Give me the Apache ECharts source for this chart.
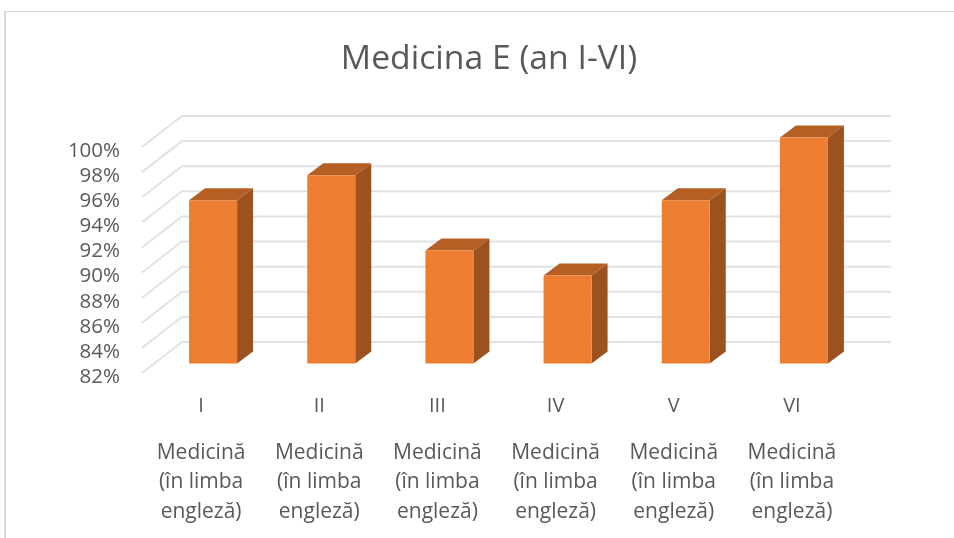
<!DOCTYPE html>
<html>
<head>
<meta charset="utf-8">
<style>
  html, body { margin: 0; padding: 0; background: #fff; }
  #chart { width: 954px; height: 538px; }
</style>
<script src="https://cdn.jsdelivr.net/npm/echarts@6/dist/echarts.min.js"></script>
</head>
<body>
<div id="chart"></div>
<script>
const years = ['I', 'II', 'III', 'IV', 'V', 'VI']
const programme = [
  'Medicină\n(în limba\nengleză)',
  'Medicină\n(în limba\nengleză)',
  'Medicină\n(în limba\nengleză)',
  'Medicină\n(în limba\nengleză)',
  'Medicină\n(în limba\nengleză)',
  'Medicină\n(în limba\nengleză)',
]
const values = [95, 97, 91, 89, 95, 100]
const ticks = [82, 84, 86, 88, 90, 92, 94, 96, 98, 100]

const FONT = '"Open Sans", sans-serif'
const TEXT = '#595959'
const BASE = 82
// fake 3d: wall depth, where the bar starts inside it, and the bar's own depth
const WALL = [40, -31]
const INSET = [12, -9.5]
const DEPTH = [16, -12]
const BAR_W = 48

const chart = echarts.init(document.getElementById('chart'))

const poly = (points, color, z2) => ({
  type: 'polygon',
  z2: z2,
  shape: { points: points },
  style: { fill: color },
})

const option = {
  backgroundColor: '#fff',
  animation: false,
  title: {
    text: 'Medicina E (an I-VI)',
    left: 484,
    top: 37,
    textAlign: 'center',
    textStyle: { fontFamily: FONT, fontSize: 33.7, fontWeight: 'normal', color: TEXT },
  },
  grid: { left: 142, top: 147, width: 709, height: 226 },
  xAxis: [
    {
      type: 'category',
      data: years,
      axisLine: { show: false },
      axisTick: { show: false },
      axisLabel: { color: TEXT, fontFamily: FONT, fontSize: 20, margin: 23 },
    },
    {
      type: 'category',
      position: 'bottom',
      offset: 65,
      data: programme,
      axisLine: { show: false },
      axisTick: { show: false },
      axisLabel: {
        color: TEXT,
        fontFamily: FONT,
        fontSize: 21,
        lineHeight: 29.5,
        margin: 0,
        interval: 0,
        align: 'center',
      },
    },
  ],
  yAxis: {
    type: 'value',
    min: 82,
    max: 100,
    interval: 2,
    axisLine: { show: false },
    axisTick: { show: false },
    splitLine: { show: false },
    axisLabel: {
      color: TEXT,
      fontFamily: FONT,
      fontSize: 20.5,
      margin: 22,
      verticalAlign: 'top',
      lineHeight: 8,
      formatter: '{value}%',
    },
  },
  series: [
    {
      // wall gridlines: diagonal on the left, then along the back
      type: 'custom',
      silent: true,
      z: 1,
      coordinateSystem: 'cartesian2d',
      data: ticks.map((t) => [0, t]),
      renderItem: (params, api) => {
        const v = api.value(1)
        const size = api.size([1, 0])[0]
        const p = api.coord([0, v])
        const x0 = p[0] - size / 2
        const x1 = x0 + size * years.length
        return {
          type: 'polyline',
          shape: {
            points: [
              [x0, p[1]],
              [x0 + WALL[0], p[1] + WALL[1]],
              [x1 + WALL[0], p[1] + WALL[1]],
            ],
          },
          style: { stroke: '#e2e2e2', lineWidth: 2, fill: null },
        }
      },
    },
    {
      type: 'custom',
      silent: true,
      z: 2,
      coordinateSystem: 'cartesian2d',
      data: values.map((v, i) => [i, v]),
      renderItem: (params, api) => {
        const top = api.coord([api.value(0), api.value(1)])
        const bottom = api.coord([api.value(0), BASE])
        const l = top[0] + INSET[0] - BAR_W / 2
        const r = l + BAR_W
        const t = top[1] + INSET[1]
        const b = bottom[1] + INSET[1]
        const dx = DEPTH[0]
        const dy = DEPTH[1]
        return {
          type: 'group',
          children: [
            poly([[r, t], [r + dx, t + dy], [r + dx, b + dy], [r, b]], '#9c5120', 1),
            poly([[l, t], [l + dx, t + dy], [r + dx, t + dy], [r, t]], '#b55f25', 1),
            poly([[l, t], [r, t], [r, b], [l, b]], '#ed7d31', 2),
          ],
        }
      },
    },
  ],
  graphic: [
    { type: 'rect', z: 0, shape: { x: 4, y: 11, width: 2, height: 527 }, style: { fill: '#d9d9d9' } },
    { type: 'rect', z: 0, shape: { x: 4, y: 11, width: 950, height: 1 }, style: { fill: '#d9d9d9' } },
  ],
}

chart.setOption(option)
</script>
</body>
</html>
